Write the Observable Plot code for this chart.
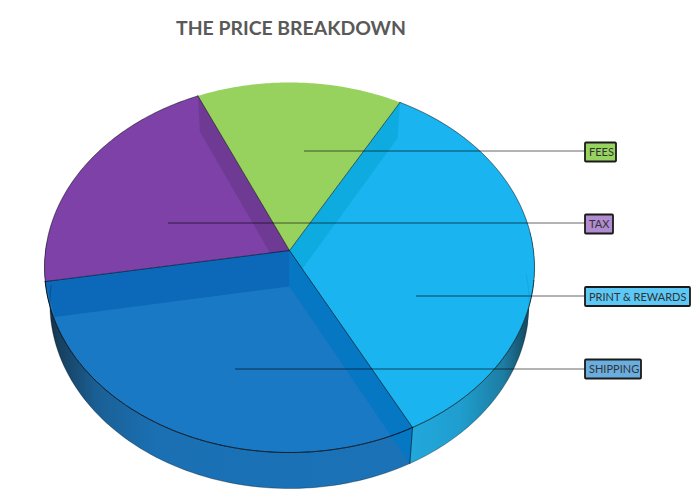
<!DOCTYPE html>
<html>
<head>
<meta charset="utf-8">
<script src="https://cdn.jsdelivr.net/npm/d3@7"></script>
<script src="https://cdn.jsdelivr.net/npm/@observablehq/plot@0.6"></script>
<style>
html,body{margin:0;padding:0;background:#fff}
#title{height:52px;box-sizing:border-box;padding:15px 0 0 176px;font:bold 19.4px Lato,sans-serif;color:#595959;line-height:26px;white-space:nowrap}
svg{display:block}
</style>
</head>
<body>
<div id="title">THE PRICE BREAKDOWN</div>
<div id="chart"></div>
<script>
// data, clockwise from the top
const categories = ["FEES", "PRINT & REWARDS", "SHIPPING", "TAX"];
const shares = [14.8, 34.2, 30, 21];

// label table, top to bottom
const labelNames = ["FEES", "TAX", "PRINT & REWARDS", "SHIPPING"];
const labelRows = [152, 224, 296.5, 369];
const leaderRows = [150.5, 222.5, 295.5, 368.5];
const labelRight = [616, 613, 690, 641];
const leaderFrom = [304, 168, 416, 235];

// styles
const faceColor = {"FEES":"#98D25E","PRINT & REWARDS":"#1AB4F0","SHIPPING":"#1A79C4","TAX":"#7D41A8"};
const boxColor = {"FEES":"#97D35F","TAX":"#B18CD0","PRINT & REWARDS":"#5CC8F5","SHIPPING":"#6AAEE0"};

// pie projection
const start = -24, cx = 289, apexY = 250, sy = 160.5, persp = -0.0919, sx = 244, depth = 36, shrink = 0.978;
const onTop = (deg, r = 1) => {
  const a = deg * Math.PI / 180, u = r * Math.sin(a), v = -r * Math.cos(a), w = 1 + persp * v;
  return {x: cx + sx * u / w, y: (apexY + sy * v) / w};
};
const drop = p => ({x: cx + (p.x - cx) * shrink, y: p.y + depth});
const arc = (a, b, n = 80) => d3.range(n + 1).map(i => onTop(a + (b - a) * i / n));
const lerp = (p, q, t) => ({x: p.x + (q.x - p.x) * t, y: p.y + (q.y - p.y) * t});

let acc = start;
const edges = {};
categories.forEach((c, i) => { const a0 = acc; acc += shares[i] * 3.6; edges[c] = [a0, acc]; });
const apex = onTop(0, 0), apexB = drop(apex);
const face = c => { const [a, b] = edges[c]; return [apex, ...arc(a, b), apex]; };
const rim = (a, b) => { const t = arc(a, b); return [...t, ...t.slice().reverse().map(drop), t[0]]; };
const band = (deg, t = 1) => { const p = onTop(deg); return [apex, p, lerp(apexB, drop(p), t), apexB, apex]; };

const poly = (pts, fill) => Plot.line(pts, {x: "x", y: "y", fill, stroke: "none", curve: "linear"});
const edge = (pts, opts) => Plot.line(pts, {x: "x", y: "y", fill: "none", stroke: "#000", strokeWidth: 0.8, strokeOpacity: 0.55, curve: "linear", ...opts});

const [feesA, feesB] = edges["FEES"];
const [printA, printB] = edges["PRINT & REWARDS"];
const [shipA, shipB] = edges["SHIPPING"];
const [taxA, taxB] = edges["TAX"];

const defs = () => {
  const g = d3.create("svg:defs");
  const grad = (id, stops) => {
    const l = g.append("linearGradient").attr("id", id);
    stops.forEach(([o, c]) => l.append("stop").attr("offset", o).attr("stop-color", c));
  };
  grad("rimShip", [[0,"#14283a"],[0.04,"#16405f"],[0.14,"#1a5f94"],[0.3,"#1a70b3"],[1,"#1b72b7"]]);
  grad("rimPrint", [[0,"#22a8dc"],[0.4,"#1f9ecf"],[0.75,"#1d7da3"],[1,"#123a4e"]]);
  return g.node();
};

const leaders = labelNames.map((name, i) => ({name, x1: leaderFrom[i], x2: 585, y: leaderRows[i]}));
const boxes = labelNames.map((name, i) => ({name, x1: 585, x2: labelRight[i], y1: labelRows[i] - 9.5, y2: labelRows[i] + 9.5, y: labelRows[i]}));

const plot = Plot.plot({
  width: 700, height: 444,
  margin: 0,
  x: {domain: [0, 700], range: [0, 700], axis: null},
  y: {domain: [52, 496], range: [0, 444], axis: null},
  marks: [
    defs,
    poly(rim(printA + 55, printB), "url(#rimPrint)"),
    poly(rim(shipA, shipB + 12), "url(#rimShip)"),
    poly(face("TAX"), faceColor["TAX"]),
    poly(face("PRINT & REWARDS"), faceColor["PRINT & REWARDS"]),
    poly(band(taxB), "#6F3A94"),
    poly(band(feesB), "#0DABDF"),
    poly(face("SHIPPING"), faceColor["SHIPPING"]),
    poly(band(shipB, 0.983), "#0C68B9"),
    poly(band(printB), "#0577C3"),
    poly(face("FEES"), faceColor["FEES"]),
    // far rim seen through the top
    edge(arc(shipB, feesA + 110).map(drop), {strokeOpacity: 0.09}),
    // bottom outline and slice outlines
    edge(arc(printA + 72, shipB + 10).map(drop), {strokeOpacity: 0.3}),
    edge(arc(shipA, shipB), {strokeOpacity: 0.8, strokeWidth: 0.9}),
    edge(arc(taxB, printA), {strokeOpacity: 0.35}),
    edge(arc(shipB, taxB), {strokeOpacity: 0.3}),
    edge(arc(printA, printA + 70), {strokeOpacity: 0.3}),
    edge(arc(printA + 70, printB), {strokeOpacity: 0.65}),
    edge([onTop(printB), drop(onTop(printB))], {strokeOpacity: 0.7}),
    edge([onTop(taxB), apex, onTop(feesB)], {strokeOpacity: 0.65}),
    edge([onTop(shipB), apex, onTop(printB)], {strokeOpacity: 0.7}),
    Plot.ruleY(leaders, {x1: "x1", x2: "x2", y: "y", stroke: "#000", strokeOpacity: 0.6, strokeWidth: 1}),
    Plot.rect(boxes, {x1: "x1", x2: "x2", y1: "y1", y2: "y2", fill: d => boxColor[d.name], stroke: "#1a1a1a", strokeWidth: 1.8, rx: 1}),
    Plot.text(boxes, {x: d => d.x1 + 3.5, y: "y", text: "name", textAnchor: "start", fill: "#333", fontSize: 11, fontFamily: "Lato, sans-serif", lineAnchor: "middle"})
  ]
});
document.getElementById("chart").append(plot);
</script>
</body>
</html>
